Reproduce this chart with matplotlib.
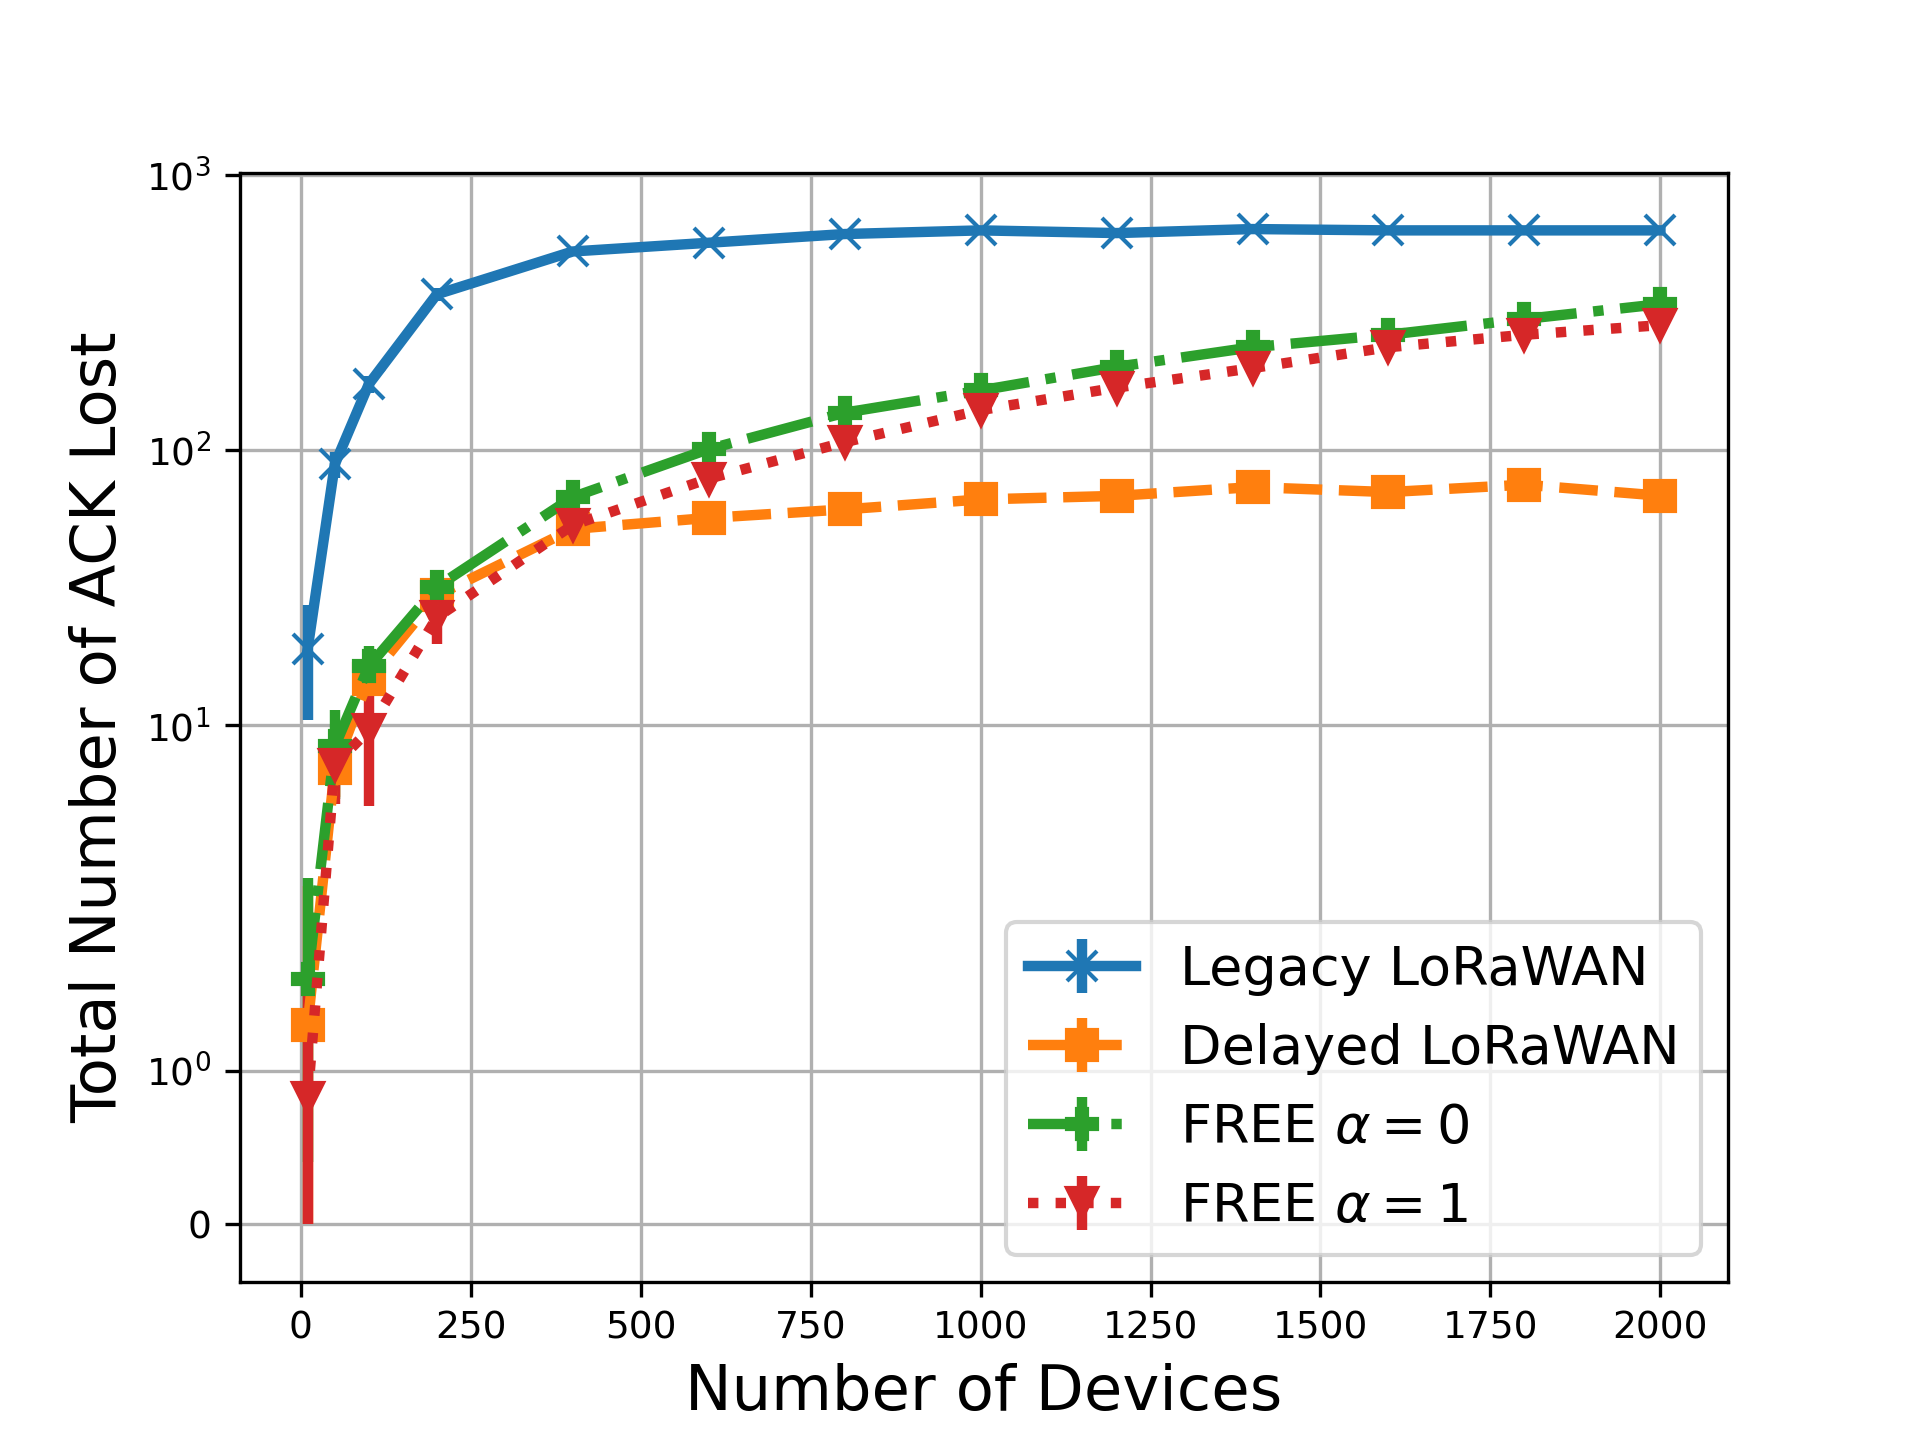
import numpy as np
import matplotlib
matplotlib.use("Agg")
import matplotlib.pyplot as plt
from matplotlib.ticker import NullLocator

devices = [10, 50, 100, 200, 400, 600, 800, 1000, 1200, 1400, 1600, 1800, 2000]

legacy = [19, 89, 174, 369, 528, 568, 611, 630, 616, 637, 630, 630, 630]
legacy_err = [8.5, 10, 12, 20, 20, 20, 20, 20, 20, 20, 20, 20, 20]

delayed = [1.3, 7.0, 14.8, 29.7, 51.8, 56.8, 61, 66.3, 68.3, 73.5, 70.5, 75, 68.4]
delayed_err = [1.3, 1.5, 2.0, 3.0, 3.0, 3.0, 3.0, 3.0, 3.0, 3.0, 3.0, 3.0, 3.5]

free0 = [1.6, 8.4, 16.4, 31.9, 67.6, 101, 137, 165, 201, 237, 263, 300, 340]
free0_err = [1.2, 3.0, 3.0, 4.0, 5.0, 5.0, 6.0, 6.0, 7.0, 8.0, 8.0, 9.0, 10.0]

free1 = [0.82, 7.2, 9.6, 24.7, 53.5, 78.9, 107, 140, 169, 199, 237, 263, 285]
free1_err = [0.82, 2.0, 4.5, 5.0, 4.0, 5.0, 6.0, 6.0, 7.0, 7.0, 8.0, 9.0, 10.0]

labels = ["Legacy LoRaWAN", "Delayed LoRaWAN", r"FREE $\alpha=0$", r"FREE $\alpha=1$"]

fig, ax = plt.subplots(figsize=(6.4, 4.8), dpi=300)

series = [
    (legacy, legacy_err, "x", "-", "tab:blue"),
    (delayed, delayed_err, "s", "--", "tab:orange"),
    (free0, free0_err, "P", "-.", "tab:green"),
    (free1, free1_err, "v", ":", "tab:red"),
]
for (y, err, mk, ls, col), lab in zip(series, labels):
    ax.errorbar(devices, y, yerr=err, marker=mk, linestyle=ls, color=col,
                lw=2.5, elinewidth=2.5, ms=7, label=lab)

ax.set_yscale("symlog")
ax.set_yticks([0, 1, 10, 100, 1000])
ax.yaxis.set_minor_locator(NullLocator())
ax.set_ylim(-0.38, 1020)
ax.set_xticks(np.arange(0, 2001, 250))
ax.tick_params(labelsize=9)
ax.grid(True, color="#b0b0b0", lw=0.8)

ax.set_xlabel("Number of Devices", fontsize=15)
ax.set_ylabel("Total Number of ACK Lost", fontsize=15)
ax.legend(loc="lower right", fontsize=13)

fig.savefig("out.png", dpi=300)
